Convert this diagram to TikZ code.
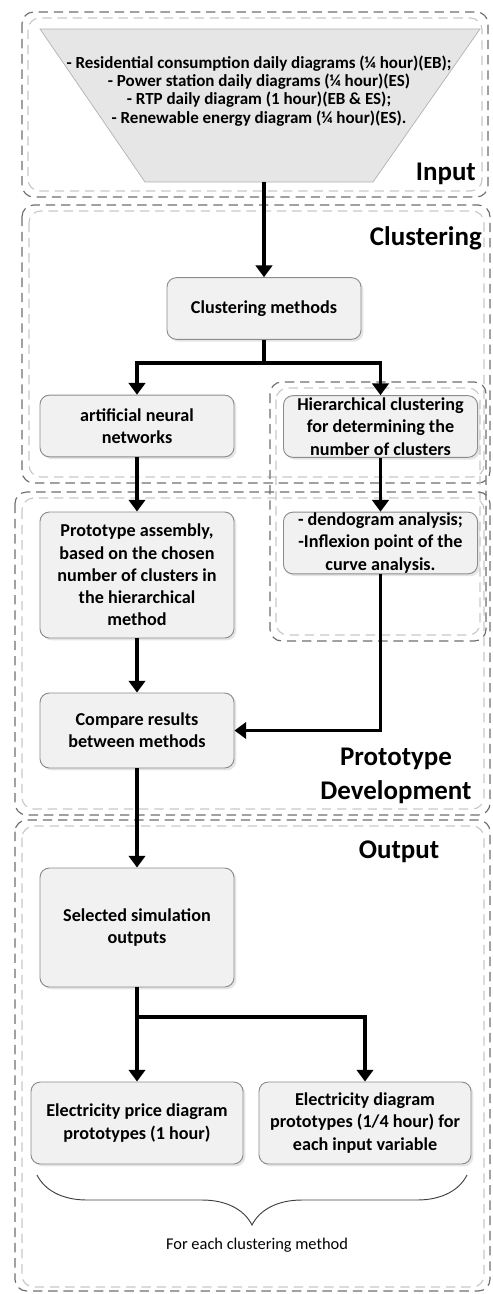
\documentclass[tikz,border=0pt]{standalone}
\usepackage{fontspec}
\setmainfont{Carlito}
\usetikzlibrary{arrows.meta, positioning, shadows, decorations.pathreplacing}
\definecolor{boxfill}{HTML}{F1F1F1}
\definecolor{boxline}{HTML}{8C8C8C}
\definecolor{zonedark}{HTML}{6E6E6E}
\definecolor{zonelight}{HTML}{C8C8C8}
\definecolor{funnelfill}{HTML}{E6E6E6}

\begin{document}
\begin{tikzpicture}[x=0.03cm, y=-0.03cm,
  block/.style={rectangle, rounded corners=8pt, draw=boxline, line width=0.8pt, fill=boxfill, minimum width=5.82cm, minimum height=1.85cm, inner xsep=3pt, inner ysep=0pt, align=center, font=\fontsize{15.5}{19}\selectfont\bfseries, drop shadow={shadow xshift=2pt, shadow yshift=-2pt, fill=black!20}},
  flow/.style={-{Triangle[length=10pt, width=14pt]}, line width=2.6pt},
  link/.style={line width=2.6pt},
  zoneout/.style={draw=zonedark, dash pattern=on 8pt off 5pt, line width=1pt, rounded corners=10pt},
  zonein/.style={draw=zonelight, dash pattern=on 8pt off 5pt, line width=1pt, rounded corners=10pt},
  zonetitle/.style={font=\fontsize{23}{29.5}\selectfont\bfseries, inner sep=0pt}
]
\useasboundingbox (0,0) rectangle (492,1294);

% zones
\draw[zoneout] (22,12) rectangle (488,197);
\draw[zonein] (28,18) rectangle (482,191);
\draw[zoneout] (22,205) rectangle (490,483);
\draw[zonein] (29,211) rectangle (484,477);
\draw[zoneout] (270,382) rectangle (486,641);
\draw[zonein] (276,388) rectangle (480,635);
\draw[zoneout] (15,492) rectangle (490,815);
\draw[zonein] (22,498) rectangle (484,809);
\draw[zoneout] (15,820) rectangle (490,1291);
\draw[zonein] (22,826) rectangle (484,1287);

\node[zonetitle, anchor=base east] (intitle) at (476,180) {Input};
\node[zonetitle, anchor=base east] (cltitle) at (482,245) {Clustering};
\node[zonetitle, align=center] (protitle) at (396,776) {Prototype\\Development};
\node[zonetitle, anchor=base] (outtitle) at (399,858) {Output};

% input funnel
\draw[fill=funnelfill, draw=gray!60, line width=0.6pt] (40,29) -- (480,29) -- (373,182) -- (145,182) -- cycle;
\node[font=\fontsize{14.5}{15.5}\selectfont\bfseries, align=center] (intext) at (259,91)
  {- Residential consumption daily diagrams (¼ hour)(EB);\\
   - Power station daily diagrams (¼ hour)(ES)\\
   - RTP daily diagram (1 hour)(EB \& ES);\\
   - Renewable energy diagram (¼ hour)(ES).};
\coordinate (inbot) at (264,182);

% boxes
\node[block] (clm) at (264,308.5) {Clustering methods};
\node[block] (ann) at (137,426) {artificial neural\\networks};
\node[block] (hier) at (380.5,426.5) {Hierarchical clustering\\for determining the\\number of clusters};
\node[block, minimum height=3.78cm] (proto) at (137,575) {Prototype assembly,\\based on the chosen\\number of clusters in\\the hierarchical\\method};
\node[block] (dendo) at (380.5,543) {- dendogram analysis;\\-Inflexion point of the\\curve analysis.};
\node[block, minimum height=2.25cm] (compare) at (137,730.5) {Compare results\\between methods};
\node[block, minimum height=3.57cm] (sel) at (137,927.5) {Selected simulation\\outputs};
\node[block, minimum width=6.36cm, minimum height=2.46cm] (price) at (137,1123) {Electricity price diagram\\prototypes (1 hour)};
\node[block, minimum width=6.36cm, minimum height=2.46cm] (elecd) at (365,1123) {Electricity diagram\\prototypes (1/4 hour) for\\each input variable};

\coordinate (split1) at (264,363);
\coordinate (split2) at (137,1017);

% connectors
\draw[flow] (inbot) -- (clm.north);
\draw[link] (clm.south) -- (split1);
\draw[flow] (split1) -| (ann.north);
\draw[flow] (split1) -| (hier.north);
\draw[flow] (ann.south) -- (proto.north);
\draw[flow] (hier.south) -- (dendo.north);
\draw[flow] (proto.south) -- (compare.north);
\draw[flow] (dendo.south) |- (compare.east);
\draw[flow] (compare.south) -- (sel.north);
\draw[link] (sel.south) -- (split2);
\draw[flow] (split2) -- (price.north);
\draw[flow] (split2) -| (elecd.north);

% brace
\draw[decorate, decoration={brace, mirror, amplitude=1.5cm}, line width=0.8pt, draw=black!75] (37,1175) -- (467,1175);
\node[font=\fontsize{14}{16}\selectfont] (note) at (257,1245) {For each clustering method};
\end{tikzpicture}
\end{document}
